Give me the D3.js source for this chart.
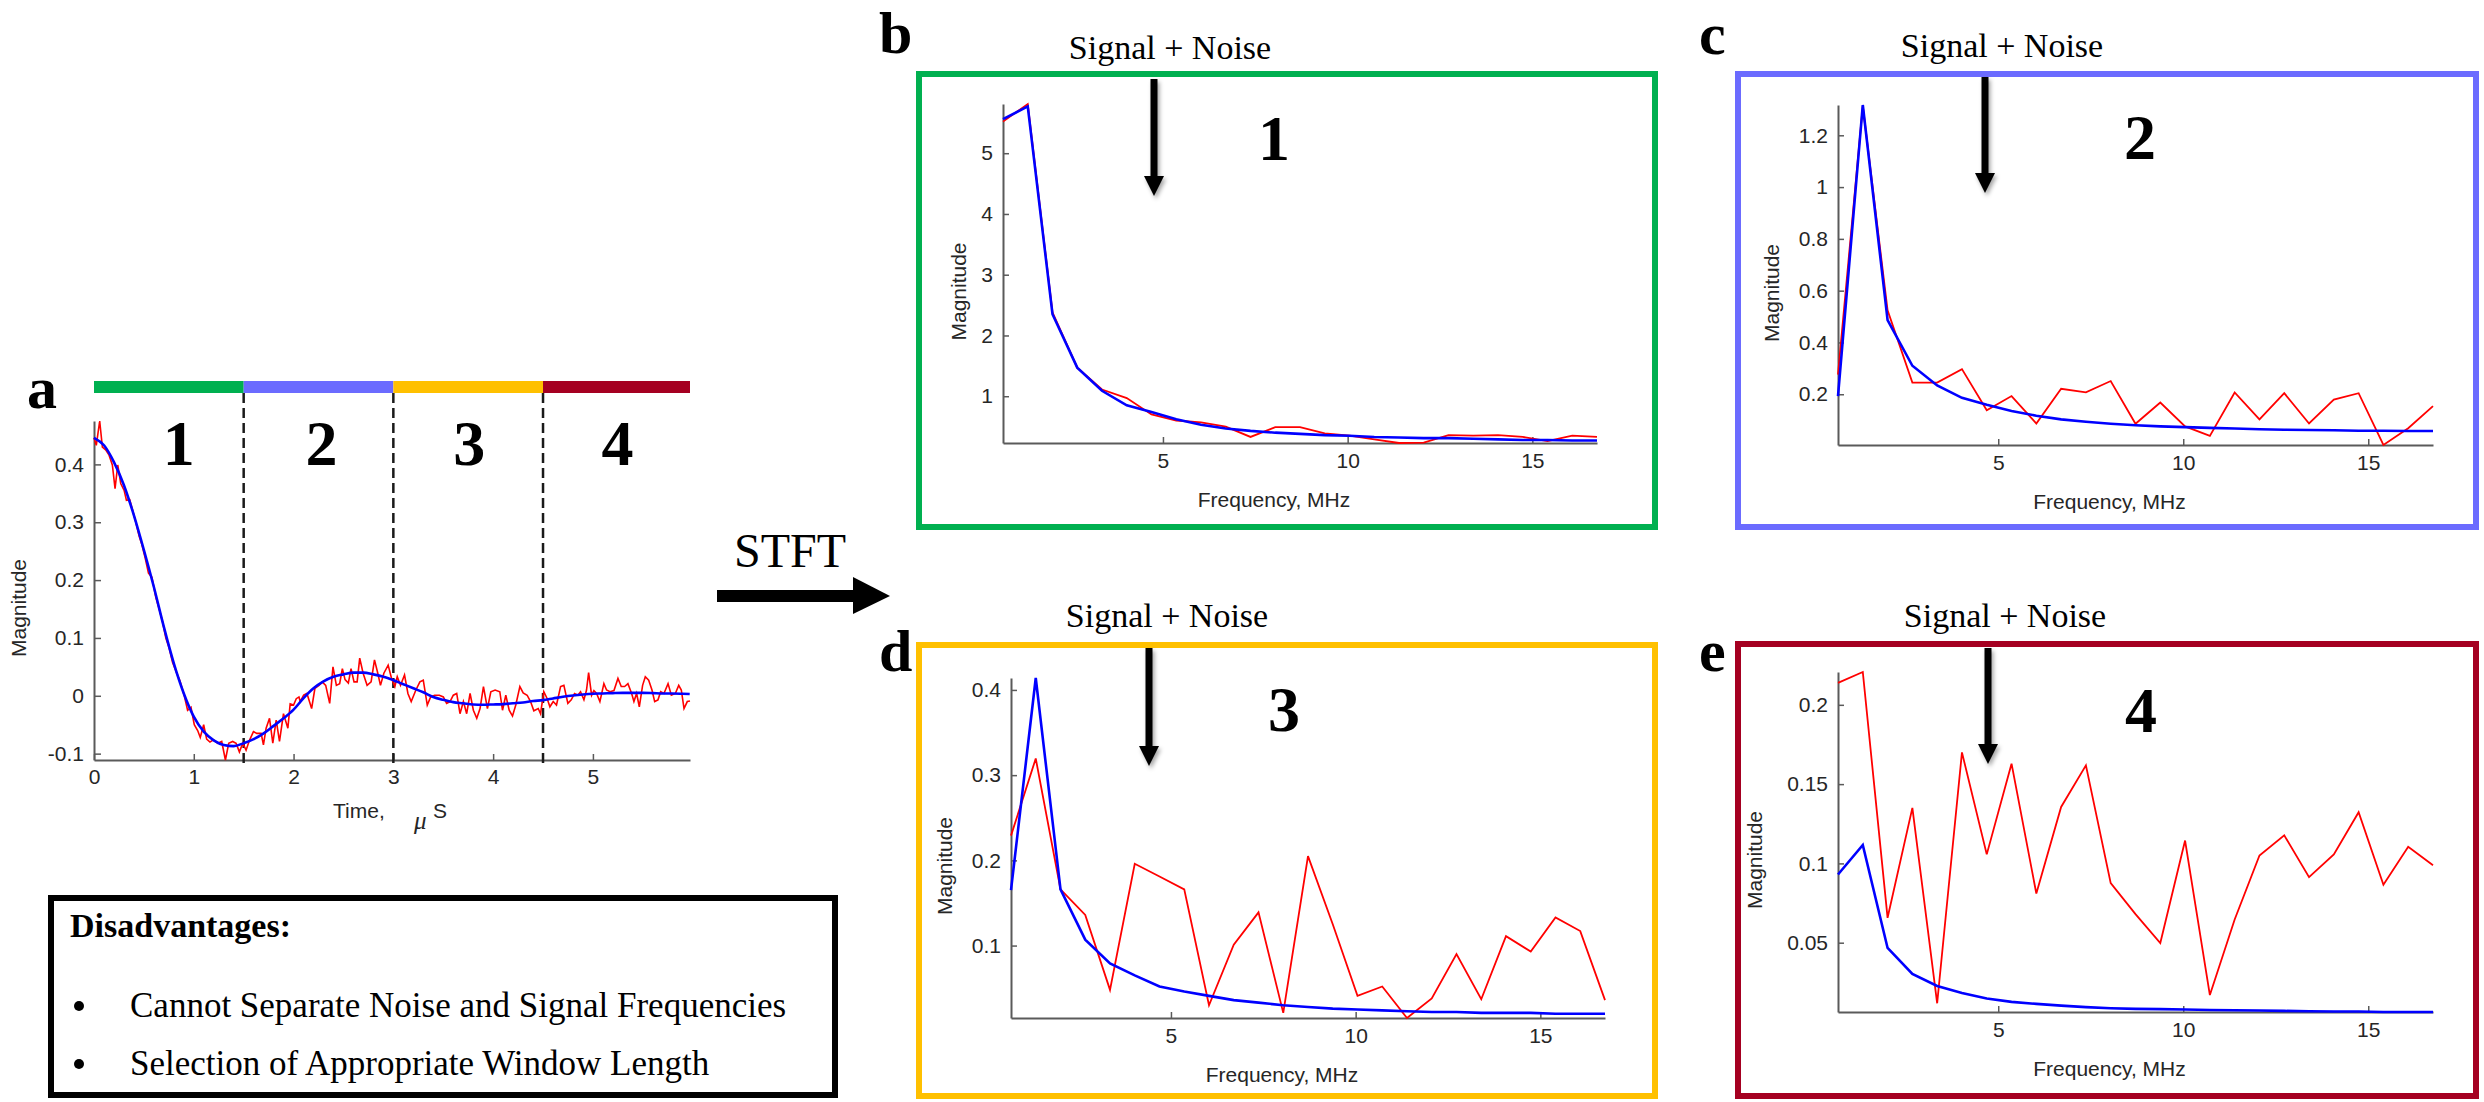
<!DOCTYPE html>
<head>
  <meta charset="utf-8">
  <script src="https://d3js.org/d3.v7.min.js"></script>
  <style>
    body { margin: 0; background: #fff; }
    svg { display: block; }
    .axis .domain { stroke: #5a5a5a; stroke-width: 2px; }
    .axis .tick line { stroke: #5a5a5a; stroke-width: 1.5px; }
    .axis text { fill: #262626; font-family: "Liberation Sans", Arial, sans-serif; font-size: 21px; }
    .lab { fill: #262626; font-family: "Liberation Sans", Arial, sans-serif; font-size: 21px; }
    .serif { font-family: "Liberation Serif", "Times New Roman", serif; fill: #000; }
  </style>
</head>
<body>
  <svg width="2484" height="1102"></svg>
  <script>
    // ---- panel a: time signal ----
    var timeTicks = [0, 1, 2, 3, 4, 5];
    var magTicksA = [-0.1, 0, 0.1, 0.2, 0.3, 0.4];

    var fitTime = [0, 0.1, 0.2, 0.3, 0.4, 0.5, 0.6, 0.7, 0.8, 0.9, 1.0, 1.1, 1.2, 1.3, 1.4, 1.5, 1.6, 1.7, 1.8, 1.9,
      2.0, 2.1, 2.2, 2.3, 2.4, 2.5, 2.6, 2.7, 2.8, 2.9, 3.0, 3.1, 3.2, 3.3, 3.4, 3.5, 3.6, 3.7, 3.8, 3.9,
      4.0, 4.1, 4.2, 4.3, 4.4, 4.5, 4.6, 4.7, 4.8, 4.9, 5.0, 5.1, 5.2, 5.3, 5.4, 5.5, 5.6, 5.7, 5.8, 5.9, 5.97];
    var fitMag = [0.446, 0.433, 0.404, 0.364, 0.312, 0.252, 0.188, 0.119, 0.056, 0.004, -0.036, -0.062, -0.077, -0.085, -0.087, -0.082, -0.075, -0.065, -0.052, -0.039,
      -0.024, -0.004, 0.013, 0.025, 0.033, 0.037, 0.040, 0.040, 0.037, 0.033, 0.027, 0.020, 0.013, 0.006, -0.002, -0.007, -0.011, -0.013, -0.015, -0.0155,
      -0.015, -0.0144, -0.013, -0.0115, -0.009, -0.0075, -0.0046, -0.0017, 0.0006, 0.0023, 0.0035, 0.004, 0.0046, 0.005, 0.005, 0.005, 0.0046, 0.004, 0.004, 0.0035, 0.003];

    var noisyTime = [0.000, 0.023, 0.057, 0.084, 0.117, 0.151, 0.184, 0.211, 0.238, 0.268, 0.302, 0.325, 0.358, 0.385, 0.419, 0.452, 0.479, 0.513, 0.546, 0.580,
      0.620, 0.653, 0.687, 0.720, 0.754, 0.787, 0.827, 0.861, 0.905, 0.938, 0.972, 1.005, 1.039, 1.065, 1.099, 1.129, 1.162, 1.196, 1.240, 1.280,
      1.317, 1.350, 1.390, 1.424, 1.457, 1.491, 1.524, 1.558, 1.598, 1.631, 1.675, 1.698, 1.725, 1.759, 1.792, 1.826, 1.859, 1.899, 1.943, 1.966,
      2.000, 2.027, 2.054, 2.067, 2.101, 2.134, 2.181, 2.214, 2.255, 2.288, 2.322, 2.362, 2.395, 2.429, 2.462, 2.489, 2.516, 2.549, 2.576, 2.606,
      2.637, 2.663, 2.697, 2.737, 2.777, 2.811, 2.844, 2.871, 2.905, 2.948, 2.982, 3.015, 3.039, 3.072, 3.112, 3.146, 3.179, 3.226, 3.266, 3.300,
      3.340, 3.374, 3.414, 3.461, 3.501, 3.534, 3.568, 3.601, 3.635, 3.668, 3.702, 3.735, 3.769, 3.802, 3.836, 3.869, 3.903, 3.943, 3.977, 4.020,
      4.067, 4.094, 4.127, 4.161, 4.194, 4.227, 4.268, 4.301, 4.341, 4.375, 4.408, 4.452, 4.475, 4.508, 4.542, 4.569, 4.602, 4.635, 4.676, 4.709,
      4.749, 4.783, 4.816, 4.849, 4.876, 4.910, 4.936, 4.957, 4.987, 5.010, 5.037, 5.070, 5.110, 5.137, 5.171, 5.211, 5.251, 5.284, 5.318, 5.351,
      5.388, 5.411, 5.438, 5.465, 5.498, 5.525, 5.559, 5.592, 5.619, 5.652, 5.679, 5.712, 5.753, 5.786, 5.826, 5.860, 5.886, 5.913, 5.946, 5.973];
    var noisyMag = [0.446, 0.433, 0.475, 0.430, 0.425, 0.416, 0.399, 0.358, 0.399, 0.367, 0.355, 0.338, 0.339, 0.322, 0.300, 0.276, 0.262, 0.238, 0.212, 0.205,
      0.170, 0.150, 0.128, 0.100, 0.082, 0.058, 0.040, 0.026, 0.000, -0.025, -0.020, -0.050, -0.060, -0.072, -0.050, -0.075, -0.080, -0.076, -0.082, -0.079,
      -0.111, -0.082, -0.079, -0.082, -0.097, -0.082, -0.094, -0.077, -0.062, -0.065, -0.065, -0.085, -0.056, -0.039, -0.082, -0.042, -0.079, -0.031, -0.056, -0.014,
      -0.016, -0.005, -0.002, -0.010, 0.001, 0.004, -0.022, 0.013, 0.018, 0.024, 0.018, -0.013, 0.050, 0.018, 0.021, 0.047, 0.028, 0.022, 0.047, 0.024,
      0.024, 0.065, 0.039, 0.018, 0.024, 0.062, 0.039, 0.018, 0.039, 0.053, 0.030, 0.016, 0.033, 0.018, 0.036, 0.004, -0.010, 0.010, 0.024, 0.027,
      -0.016, -0.002, 0.001, 0.001, -0.002, -0.013, -0.010, 0.001, 0.004, -0.031, -0.010, -0.031, 0.004, -0.025, -0.039, -0.022, 0.016, -0.022, 0.007, 0.010,
      0.007, -0.025, 0.001, -0.025, -0.035, -0.016, 0.016, 0.005, 0.001, -0.010, -0.026, -0.022, -0.031, 0.007, -0.005, -0.019, -0.010, -0.016, 0.016, 0.018,
      -0.013, -0.007, 0.004, 0.001, 0.007, -0.007, 0.010, 0.040, 0.001, 0.009, 0.004, -0.010, 0.021, 0.010, 0.007, 0.009, 0.030, 0.016, 0.016, 0.021,
      0.004, -0.010, 0.004, -0.019, 0.018, 0.033, 0.027, 0.010, -0.010, -0.007, 0.007, 0.004, 0.021, 0.001, 0.004, 0.018, 0.010, -0.022, -0.010, -0.009];

    var windowStarts = [0, 1.5, 3, 4.5];
    var windowNames = ["1", "2", "3", "4"];
    var windowColors = ["#00b050", "#6b6bff", "#ffc000", "#a50021"];

    // ---- panels b-e: spectra of each window ----
    var freqMHz = [0.67, 1.34, 2.01, 2.68, 3.35, 4.02, 4.69, 5.36, 6.03, 6.70, 7.37, 8.04, 8.71, 9.38, 10.05,
      10.72, 11.39, 12.06, 12.73, 13.40, 14.07, 14.74, 15.41, 16.08, 16.75];
    var freqTicks = [5, 10, 15];

    var spec1Noisy = [5.52, 5.81, 2.38, 1.47, 1.11, 0.97, 0.70, 0.60, 0.57, 0.50, 0.33, 0.49, 0.49, 0.39, 0.35, 0.29, 0.23, 0.235, 0.36, 0.35, 0.36, 0.33, 0.26, 0.35, 0.33];
    var spec1Fit = [5.56, 5.77, 2.35, 1.47, 1.09, 0.85, 0.74, 0.62, 0.53, 0.47, 0.43, 0.40, 0.38, 0.36, 0.35, 0.33, 0.32, 0.31, 0.31, 0.30, 0.29, 0.28, 0.28, 0.27, 0.27];
    var spec1Ticks = [1, 2, 3, 4, 5];

    var spec2Noisy = [0.276, 1.314, 0.524, 0.245, 0.245, 0.297, 0.138, 0.193, 0.087, 0.221, 0.207, 0.251, 0.086, 0.168, 0.076, 0.039, 0.207, 0.103, 0.204, 0.087, 0.179, 0.204, 0.004, 0.069, 0.154];
    var spec2Fit = [0.193, 1.317, 0.486, 0.310, 0.234, 0.186, 0.159, 0.135, 0.117, 0.103, 0.094, 0.086, 0.080, 0.076, 0.073, 0.070, 0.068, 0.065, 0.063, 0.062, 0.061, 0.059, 0.059, 0.058, 0.058];
    var spec2Ticks = [0.2, 0.4, 0.6, 0.8, 1, 1.2];

    var spec3Noisy = [0.229, 0.3195, 0.166, 0.136, 0.048, 0.196, 0.181, 0.166, 0.030, 0.101, 0.139, 0.021, 0.205, 0.125, 0.041, 0.052, 0.015, 0.038, 0.090, 0.037, 0.111, 0.093, 0.133, 0.117, 0.036];
    var spec3Fit = [0.165, 0.414, 0.166, 0.107, 0.079, 0.065, 0.052, 0.046, 0.041, 0.036, 0.033, 0.030, 0.028, 0.026, 0.025, 0.024, 0.023, 0.022, 0.022, 0.021, 0.021, 0.021, 0.020, 0.020, 0.020];
    var spec3Ticks = [0.1, 0.2, 0.3, 0.4];

    var spec4Noisy = [0.2138, 0.2207, 0.0657, 0.135, 0.0118, 0.170, 0.1057, 0.1629, 0.081, 0.1356, 0.1618, 0.0876, 0.068, 0.0498, 0.1144, 0.017, 0.0646, 0.105, 0.1177, 0.0913, 0.1057, 0.1323, 0.0865, 0.1105, 0.0989];
    var spec4Fit = [0.093, 0.1116, 0.0467, 0.0303, 0.0227, 0.0183, 0.0148, 0.0127, 0.0114, 0.0103, 0.0094, 0.0087, 0.0083, 0.0081, 0.0079, 0.0076, 0.0074, 0.0072, 0.0070, 0.0068, 0.0066, 0.0066, 0.0063, 0.0063, 0.0063];
    var spec4Ticks = [0.05, 0.1, 0.15, 0.2];

    var disadvantages = ["Cannot Separate Noise and Signal Frequencies", "Selection of Appropriate Window Length"];

    var svg = d3.select("svg");
    var defs = svg.append("defs");
    defs.append("filter").attr("id", "shadow").attr("x", "-50%").attr("y", "-20%").attr("width", "200%").attr("height", "140%")
      .append("feDropShadow").attr("dx", 2).attr("dy", 3).attr("stdDeviation", 2).attr("flood-opacity", 0.35);

    function fmt(d) { return String(d); }

    // ================= panel a =================
    var xa = d3.scaleLinear().domain(d3.extent(noisyTime)).range([94, 690]);
    var ya = d3.scaleLinear().domain(d3.extent(noisyMag.concat(fitMag))).range([760, 421]);
    var ga = svg.append("g");

    ga.append("g").attr("class", "axis").attr("transform", "translate(0,760)")
      .call(d3.axisBottom(xa).tickValues(timeTicks).tickFormat(fmt).tickSizeInner(-6).tickSizeOuter(0).tickPadding(9));
    ga.append("g").attr("class", "axis").attr("transform", "translate(94,0)")
      .call(d3.axisLeft(ya).tickValues(magTicksA).tickFormat(fmt).tickSizeInner(-7).tickSizeOuter(0).tickPadding(10));

    // window bar
    var winEnd = windowStarts.slice(1).concat([xa.domain()[1]]);
    ga.selectAll(".win").data(windowStarts).enter().append("rect")
      .attr("x", function (d) { return xa(d); })
      .attr("width", function (d, i) { return xa(winEnd[i]) - xa(d); })
      .attr("y", 381).attr("height", 12)
      .attr("fill", function (d, i) { return windowColors[i]; });

    ga.selectAll(".sep").data(windowStarts.slice(1)).enter().append("line")
      .attr("x1", function (d) { return xa(d); }).attr("x2", function (d) { return xa(d); })
      .attr("y1", 393).attr("y2", 765)
      .attr("stroke", "#1a1a1a").attr("stroke-width", 2.5).attr("stroke-dasharray", "10,5");

    var numDx = [10, 3, 1, 1];
    ga.selectAll(".wn").data(windowNames).enter().append("text")
      .attr("class", "serif")
      .attr("x", function (d, i) { return (xa(windowStarts[i]) + xa(winEnd[i])) / 2 + numDx[i]; })
      .attr("y", 465).attr("text-anchor", "middle")
      .attr("font-size", 64).attr("font-weight", "bold")
      .text(function (d) { return d; });

    var lineA = d3.line().x(function (d) { return xa(d[0]); }).y(function (d) { return ya(d[1]); });
    ga.append("path").datum(d3.zip(noisyTime, noisyMag))
      .attr("d", lineA).attr("fill", "none").attr("stroke", "#ff0000").attr("stroke-width", 1.6);
    ga.append("path").datum(d3.zip(fitTime, fitMag))
      .attr("d", lineA.curve(d3.curveMonotoneX)).attr("fill", "none").attr("stroke", "#0000ff").attr("stroke-width", 2.6);

    ga.append("text").attr("class", "lab").attr("transform", "translate(19,608) rotate(-90)")
      .attr("text-anchor", "middle").attr("dy", "0.35em").text("Magnitude");
    var tl = ga.append("text").attr("class", "lab").attr("x", 333).attr("y", 818);
    tl.append("tspan").text("Time,");
    tl.append("tspan").attr("x", 414).attr("y", 829).attr("font-style", "italic")
      .attr("font-family", "'Liberation Serif', serif").attr("font-size", 25).text("μ");
    tl.append("tspan").attr("x", 433).attr("y", 818).text("S");

    ga.append("text").attr("class", "serif").attr("x", 27).attr("y", 408)
      .attr("font-size", 60).attr("font-weight", "bold").text("a");

    // ================= STFT arrow =================
    svg.append("text").attr("class", "serif").attr("x", 790).attr("y", 567).attr("text-anchor", "middle")
      .attr("font-size", 48).text("STFT");
    svg.append("rect").attr("x", 717).attr("y", 590).attr("width", 138).attr("height", 12).attr("fill", "#000");
    svg.append("path").attr("d", "M853,577 L890,596 L853,614 Z").attr("fill", "#000");

    // ================= disadvantages box =================
    svg.append("rect").attr("x", 51).attr("y", 898).attr("width", 784).attr("height", 197)
      .attr("fill", "none").attr("stroke", "#000").attr("stroke-width", 6);
    svg.append("text").attr("class", "serif").attr("x", 70).attr("y", 937)
      .attr("font-size", 34).attr("font-weight", "bold").text("Disadvantages:");
    var bulletY = [1017, 1075];
    disadvantages.forEach(function (s, i) {
      svg.append("circle").attr("cx", 79).attr("cy", bulletY[i] - 11).attr("r", 5).attr("fill", "#000");
      svg.append("text").attr("class", "serif").attr("x", 130).attr("y", bulletY[i])
        .attr("font-size", 35).text(s);
    });

    // ================= spectra panels =================
    var panels = [
      { letter: "b", name: "1", noisy: spec1Noisy, fit: spec1Fit, ticks: spec1Ticks, color: windowColors[0],
        box: [919, 74, 1655, 527], plot: [1003, 104, 1597, 443], lab: [879, 53], title: [1170, 59], arrow: [1154, 79, 196], num: [1274, 160], ylab: 44 },
      { letter: "c", name: "2", noisy: spec2Noisy, fit: spec2Fit, ticks: spec2Ticks, color: windowColors[1],
        box: [1738, 74, 2476, 527], plot: [1838, 105, 2433, 445], lab: [1699, 54], title: [2002, 57], arrow: [1985, 77, 193], num: [2140, 159], ylab: 66 },
      { letter: "d", name: "3", noisy: spec3Noisy, fit: spec3Fit, ticks: spec3Ticks, color: windowColors[2],
        box: [919, 645, 1655, 1096], plot: [1011, 678, 1605, 1018], lab: [879, 671], title: [1167, 627], arrow: [1149, 648, 766], num: [1284, 731], ylab: 66 },
      { letter: "e", name: "4", noisy: spec4Noisy, fit: spec4Fit, ticks: spec4Ticks, color: windowColors[3],
        box: [1738, 644, 2476, 1096], plot: [1838, 672, 2433, 1012], lab: [1699, 671], title: [2005, 627], arrow: [1988, 648, 764], num: [2141, 732], ylab: 83 }
    ];

    panels.forEach(function (p) {
      var g = svg.append("g");
      var L = p.plot[0], T = p.plot[1], R = p.plot[2], B = p.plot[3];

      g.append("rect").attr("x", p.box[0]).attr("y", p.box[1])
        .attr("width", p.box[2] - p.box[0]).attr("height", p.box[3] - p.box[1])
        .attr("fill", "none").attr("stroke", p.color).attr("stroke-width", 6);

      var x = d3.scaleLinear().domain(d3.extent(freqMHz)).range([L, R]);
      var y = d3.scaleLinear().domain(d3.extent(p.noisy.concat(p.fit))).range([B, T]);

      g.append("g").attr("class", "axis").attr("transform", "translate(0," + B + ")")
        .call(d3.axisBottom(x).tickValues(freqTicks).tickFormat(fmt).tickSizeInner(-6).tickSizeOuter(0).tickPadding(10));
      g.append("g").attr("class", "axis").attr("transform", "translate(" + L + ",0)")
        .call(d3.axisLeft(y).tickValues(p.ticks).tickFormat(fmt).tickSizeInner(-6).tickSizeOuter(0).tickPadding(10));

      var line = d3.line().x(function (d) { return x(d[0]); }).y(function (d) { return y(d[1]); });
      g.append("path").datum(d3.zip(freqMHz, p.noisy)).attr("d", line)
        .attr("fill", "none").attr("stroke", "#ff0000").attr("stroke-width", 1.8);
      g.append("path").datum(d3.zip(freqMHz, p.fit)).attr("d", line)
        .attr("fill", "none").attr("stroke", "#0000ff").attr("stroke-width", 2.6);

      g.append("text").attr("class", "lab").attr("x", (L + R) / 2 - 26).attr("y", B + 64)
        .attr("text-anchor", "middle").text("Frequency, MHz");
      g.append("text").attr("class", "lab")
        .attr("transform", "translate(" + (L - p.ylab) + "," + ((T + B) / 2 + 18) + ") rotate(-90)")
        .attr("text-anchor", "middle").attr("dy", "0.35em").text("Magnitude");

      g.append("text").attr("class", "serif").attr("x", p.lab[0]).attr("y", p.lab[1])
        .attr("font-size", 60).attr("font-weight", "bold").text(p.letter);
      g.append("text").attr("class", "serif").attr("x", p.title[0]).attr("y", p.title[1])
        .attr("text-anchor", "middle").attr("font-size", 34).text("Signal + Noise");
      g.append("text").attr("class", "serif").attr("x", p.num[0]).attr("y", p.num[1])
        .attr("text-anchor", "middle").attr("font-size", 64).attr("font-weight", "bold").text(p.name);

      var ax = p.arrow[0], a0 = p.arrow[1], a1 = p.arrow[2];
      var ag = g.append("g").attr("filter", "url(#shadow)");
      ag.append("rect").attr("x", ax - 3.5).attr("y", a0).attr("width", 7).attr("height", a1 - a0 - 18).attr("fill", "#000");
      ag.append("path").attr("d", "M" + (ax - 10) + "," + (a1 - 20) + " L" + (ax + 10) + "," + (a1 - 20) + " L" + ax + "," + a1 + " Z")
        .attr("fill", "#000");
    });
  </script>
</body>
